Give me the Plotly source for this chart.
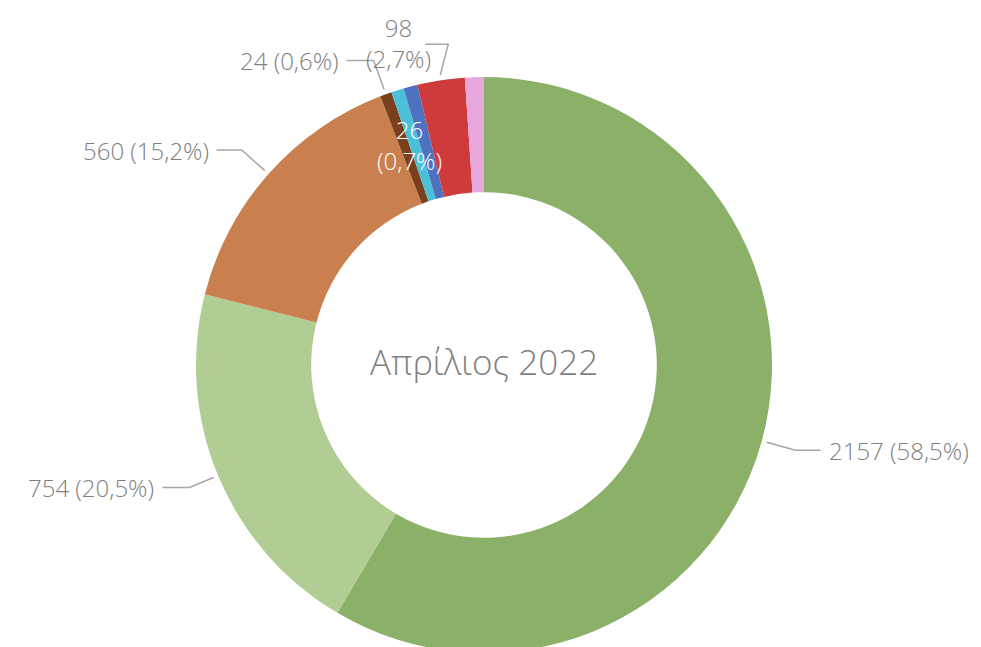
import math
import plotly.graph_objects as go

# ---- data ----
categories = ["A", "B", "C", "D", "E", "F", "G", "H"]
values = [2157, 754, 560, 24, 26, 29, 98, 39]
percent_labels = ["58,5%", "20,5%", "15,2%", "0,6%", "0,7%", "0,8%", "2,7%", "1,1%"]
colors = ["#8BB068", "#B0CD94", "#C97F4E", "#7A3F1C", "#4BC0D9", "#4F72C0", "#CF3A3C", "#E6A8DC"]
center_title = "Απρίλιος 2022"

# ---- layout config ----
W, H = 981, 647
OFF = 8  # page body margin
CX, CY, R = 484 - OFF, 365 - OFF, 288
HOLE = 0.60
GRAY = "#7F7F7F"
LINE = "#A6A6A6"
FONT = "Open Sans"
FS = 24

fig = go.Figure(go.Pie(
    labels=categories, values=values, sort=False, direction="clockwise", rotation=0,
    hole=HOLE, marker=dict(colors=colors, line=dict(width=0)), textinfo="none",
    hoverinfo="label+value+percent",
    domain=dict(x=[(CX - R) / W, (CX + R) / W], y=[(H - CY - R) / H, (H - CY + R) / H]),
    showlegend=False,
))

def px(x, y):
    return x / W, 1 - y / H

total = sum(values)
cum = 0
mids = []
for v in values:
    mids.append((cum + v / 2) / total * 2 * math.pi)
    cum += v

# label styles per slice index: (mode, radial_len, horiz_len)
label_style = {0: ("radial", 30, 25), 1: ("radial", 26, 27), 2: ("radial", 31, 25),
               3: ("radial", 31, 27), 6: ("up", 31, 23), 4: ("inside", 0, 0)}

shapes = []
annotations = []
for i, st in label_style.items():
    mode, L, hl = st
    th = mids[i]
    s, c = math.sin(th), math.cos(th)
    text = f"{values[i]} ({percent_labels[i]})"
    if mode == "inside":
        r = R * (1 + HOLE) / 2 - 10
        x, y = CX + r * s, CY - r * c
        ax, ay = px(x - 8, y - 10)
        annotations.append(dict(x=ax, y=ay, xref="paper", yref="paper", showarrow=False,
                                text=f"{values[i]}<br>({percent_labels[i]})", align="center",
                                font=dict(family=FONT, size=FS, color="white", weight=300),
                                xanchor="center", yanchor="middle"))
        continue
    x0, y0 = CX + (R + 5) * s, CY - (R + 5) * c
    if mode == "radial":
        x1, y1 = x0 + L * s, y0 - L * c
    else:
        x1, y1 = x0 + 8, y0 - L
    side = 1 if s > 0 else -1
    x2, y2 = x1 + side * hl, y1
    p = [px(x0, y0), px(x1, y1), px(x2, y2)]
    shapes.append(dict(type="path", xref="paper", yref="paper",
                       path=f"M {p[0][0]},{p[0][1]} L {p[1][0]},{p[1][1]} L {p[2][0]},{p[2][1]}",
                       line=dict(color=LINE, width=1.5)))
    if mode == "up":
        tx, ty = px(x2 - 27, y2 - 1)
        annotations.append(dict(x=tx, y=ty, xref="paper", yref="paper", showarrow=False,
                                text=f"{values[i]}<br>({percent_labels[i]})", align="center",
                                font=dict(family=FONT, size=FS, color=GRAY, weight=300),
                                xanchor="center", yanchor="middle"))
    else:
        tx, ty = px(x2 + side * 6, y2)
        annotations.append(dict(x=tx, y=ty, xref="paper", yref="paper", showarrow=False,
                                text=text, font=dict(family=FONT, size=FS, color=GRAY, weight=300),
                                xanchor="left" if side > 0 else "right", yanchor="middle"))

cx, cy = px(CX, CY - 4)
annotations.append(dict(x=cx, y=cy, xref="paper", yref="paper", showarrow=False,
                        text=center_title, font=dict(family=FONT, size=35, color=GRAY, weight=300),
                        xanchor="center", yanchor="middle"))

fig.update_layout(width=W, height=H, margin=dict(l=0, r=0, t=0, b=0),
                  paper_bgcolor="white", plot_bgcolor="white",
                  shapes=shapes, annotations=annotations)
fig.write_html("out.html")
